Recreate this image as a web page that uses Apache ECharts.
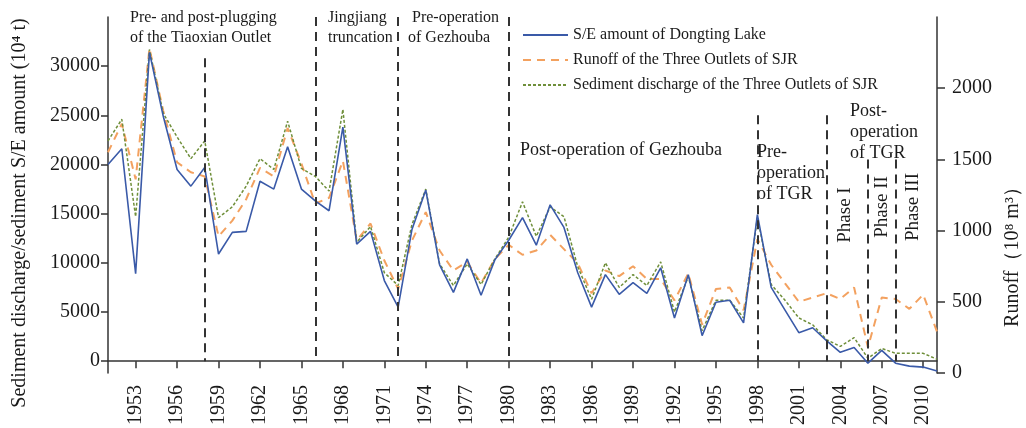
<!DOCTYPE html>
<html>
<head>
<meta charset="utf-8">
<script src="https://cdn.jsdelivr.net/npm/echarts@6/dist/echarts.min.js"></script>
<style>
  html, body { margin: 0; padding: 0; background: #fff; }
  #main { width: 1026px; height: 428px; }
</style>
</head>
<body>
<div id="main"></div>
<script>
// years 1951 - 2011
var years = ['1951','1952','1953','1954','1955','1956','1957','1958','1959','1960',
  '1961','1962','1963','1964','1965','1966','1967','1968','1969','1970',
  '1971','1972','1973','1974','1975','1976','1977','1978','1979','1980',
  '1981','1982','1983','1984','1985','1986','1987','1988','1989','1990',
  '1991','1992','1993','1994','1995','1996','1997','1998','1999','2000',
  '2001','2002','2003','2004','2005','2006','2007','2008','2009','2010','2011'];

// S/E amount of Dongting Lake (10^4 t)
var seDongting = [20000,21600,8900,31400,24900,19500,17800,19700,10900,13100,
  13200,18300,17500,21800,17500,16300,15300,23800,11900,13200,
  8200,5500,13400,17400,9800,7000,10400,6700,10300,12300,
  14600,11800,15900,13600,9000,5500,8800,6800,8000,6900,
  9500,4400,8800,2600,6000,6200,3900,14900,7500,5200,
  2900,3400,2100,900,1400,-200,1100,-200,-500,-600,-1000];

// Runoff of the Three Outlets of SJR (10^8 m^3)
var runoffOutlets = [1550,1750,1360,2280,1840,1480,1410,1380,960,1070,
  1220,1440,1380,1720,1470,1190,1230,1490,930,1050,
  790,590,930,1130,860,720,780,630,800,900,
  830,860,970,870,770,560,720,680,750,660,
  660,510,700,340,590,600,440,940,760,630,
  500,530,560,520,600,180,530,520,450,550,290];

// Sediment discharge of the Three Outlets of SJR (10^4 t)
var sedOutlets = [22400,24600,14700,31700,25200,22800,20600,22400,14600,15700,
  17800,20600,19500,24400,19600,18800,17300,25600,12100,13700,
  9000,7700,13900,17500,9900,7700,9900,7800,10400,12600,
  16200,12700,15700,14700,9600,6300,10000,7500,8800,7700,
  10100,5000,8600,3100,6200,6200,4400,14600,7800,6200,
  4400,3700,2200,1500,2400,300,1300,800,800,800,200];

var leftTicks = [0, 5000, 10000, 15000, 20000, 25000, 30000];
var rightTicks = [0, 500, 1000, 1500, 2000];

// period boundaries (dashed lines) and where each line starts
var periodYears = ['1958', '1966', '1972', '1980', '1998', '2003', '2006', '2008'];
var periodTops  = [30800, 35000, 35000, 35000, 25000, 25000, 20500, 20500];

var serif = '"Liberation Serif", "Times New Roman", serif';

var myChart = echarts.init(document.getElementById('main'));

var lineData = periodYears.map(function (y, i) {
  return [{ coord: [y, periodTops[i]] }, { coord: [y, 0] }];
});

function txt(s, x, y, size, rot) {
  return {
    type: 'text', x: x, y: y, rotation: rot || 0, silent: true,
    style: {
      text: s, fill: '#1a1a1a', font: size + 'px ' + serif,
      textAlign: rot ? 'center' : 'left', textVerticalAlign: 'middle'
    }
  };
}

var labelEvery3 = function (index) { return (index - 2) % 3 === 0; };
var plain = function (v) { return String(v); };

var option = {
  animation: false,
  grid: { left: 108, right: 89, top: 17, bottom: 45 },
  legend: {
    orient: 'vertical',
    left: 517, top: 22,
    itemWidth: 45, itemHeight: 14, itemGap: 9,
    itemStyle: { opacity: 0 },
    textStyle: { fontFamily: serif, fontSize: 16, color: '#1a1a1a' },
    data: ['S/E amount of Dongting Lake', 'Runoff of the Three Outlets of SJR',
      'Sediment discharge of the Three Outlets of SJR']
  },
  xAxis: {
    type: 'category',
    data: years,
    boundaryGap: false,
    axisLine: { onZero: true, lineStyle: { color: '#333', width: 1.5 } },
    axisTick: { interval: labelEvery3, length: 7, lineStyle: { color: '#333', width: 1.5 } },
    axisLabel: {
      interval: labelEvery3, rotate: 90, margin: 12,
      fontFamily: serif, fontSize: 20, color: '#1a1a1a'
    },
    splitLine: { show: false }
  },
  yAxis: [{
    type: 'value',
    min: -1200, max: 35000,
    axisLine: { show: true, lineStyle: { color: '#333', width: 1.5 } },
    axisTick: { show: true, length: 7, customValues: leftTicks, lineStyle: { color: '#333', width: 1.5 } },
    axisLabel: { customValues: leftTicks, formatter: plain, margin: 8, fontFamily: serif, fontSize: 20, color: '#1a1a1a' },
    splitLine: { show: false }
  }, {
    type: 'value',
    min: 0, max: 2500,
    position: 'right',
    axisLine: { show: true, lineStyle: { color: '#333', width: 1.5 } },
    axisTick: { show: true, length: 8, customValues: rightTicks, lineStyle: { color: '#333', width: 1.5 } },
    axisLabel: { customValues: rightTicks, formatter: plain, margin: 15, fontFamily: serif, fontSize: 20, color: '#1a1a1a' },
    splitLine: { show: false }
  }],
  series: [{
    name: 'S/E amount of Dongting Lake',
    type: 'line',
    yAxisIndex: 0,
    data: seDongting,
    symbol: 'none',
    z: 4,
    color: '#3a5aa8',
    lineStyle: { color: '#3a5aa8', width: 1.6 },
    markLine: {
      silent: true,
      symbol: 'none',
      label: { show: false },
      lineStyle: { color: '#333', width: 2, type: [9, 6] },
      data: lineData
    }
  }, {
    name: 'Runoff of the Three Outlets of SJR',
    type: 'line',
    yAxisIndex: 1,
    data: runoffOutlets,
    symbol: 'none',
    z: 3,
    color: '#f3a15f',
    lineStyle: { color: '#f3a15f', width: 2, type: [8, 6] }
  }, {
    name: 'Sediment discharge of the Three Outlets of SJR',
    type: 'line',
    yAxisIndex: 0,
    data: sedOutlets,
    symbol: 'none',
    z: 3,
    color: '#6f8f3a',
    lineStyle: { color: '#6f8f3a', width: 1.5, type: [3, 2] }
  }],
  graphic: [
    txt('Sediment discharge/sediment S/E amount (10\u2074 t)', 20, 213, 20, Math.PI / 2),
    txt('Runoff\uff0810\u2078 m\u00b3\uff09', 1013, 252, 20, Math.PI / 2),
    txt('Pre- and post-plugging', 130, 18, 16),
    txt('of the Tiaoxian Outlet', 130, 38, 16),
    txt('Jingjiang', 328, 18, 16),
    txt('truncation', 328, 38, 16),
    txt('Pre-operation', 412, 18, 16),
    txt('of Gezhouba', 408, 38, 16),
    txt('Post-operation of Gezhouba', 520, 150, 18),
    txt('Pre-', 757, 152, 18),
    txt('operation', 757, 173, 18),
    txt('of TGR', 757, 194, 18),
    txt('Post-', 850, 111, 18),
    txt('operation', 850, 132, 18),
    txt('of TGR', 850, 153, 18),
    txt('Phase I', 845, 215, 19, Math.PI / 2),
    txt('Phase II', 882, 207, 19, Math.PI / 2),
    txt('Phase III', 913, 207, 19, Math.PI / 2)
  ]
};

myChart.setOption(option);
</script>
</body>
</html>
